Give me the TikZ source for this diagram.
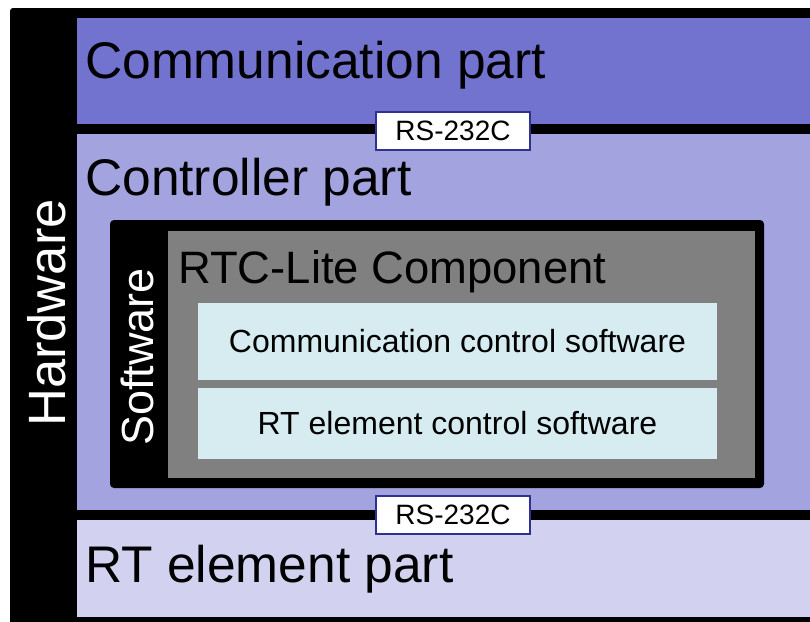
\documentclass[tikz,border=0pt]{standalone}
\usepackage{fontspec}
\setmainfont{Liberation Sans}
\definecolor{commband}{HTML}{7272CF}
\definecolor{ctrlband}{HTML}{A3A3E0}
\definecolor{rtband}{HTML}{D2D2F0}
\definecolor{swgray}{HTML}{808080}
\definecolor{swbox}{HTML}{D6ECF0}
\definecolor{rsborder}{HTML}{2E3192}
\tikzset{
  bigtxt/.style={anchor=base west, inner sep=0pt, font=\fontsize{51.5}{60}\selectfont},
  vertxt/.style={inner sep=0pt, text=white, rotate=90},
  rsbox/.style={draw=rsborder, line width=2pt, fill=white, minimum width=154pt, minimum height=38pt, inner sep=0pt, font=\fontsize{28}{32}\selectfont},
  swlayer/.style={fill=swbox, minimum width=519pt, inner sep=0pt, font=\fontsize{32}{36}\selectfont}
}
\begin{document}
\begin{tikzpicture}[x=1pt,y=-1pt]
\useasboundingbox (0,0) rectangle (810,621);
\fill[white] (0,0) rectangle (810,621);
% hardware frame
\fill[black, rounded corners=3pt] (10,8) rectangle (814,625);
\fill[commband] (77,18) rectangle (810,124);
\fill[ctrlband] (77,134) rectangle (810,510);
\fill[rtband] (77,520) rectangle (810,617);
% software frame
\fill[black, rounded corners=4pt] (110,220) rectangle (764,488);
\fill[swgray] (168,231) rectangle (755,478);
% layers
\node[swlayer, minimum height=77pt] (ccs) at (457.5,341.5) {Communication control software};
\node[swlayer, minimum height=71pt] (rtcs) at (457.5,423.5) {RT element control software};
% texts
\node[bigtxt] (comm) at (85,78) {Communication part};
\node[bigtxt] (ctrl) at (85,195) {Controller part};
\node[bigtxt] (rtel) at (85,582) {RT element part};
\node[anchor=base west, inner sep=0pt, font=\fontsize{45.4}{50}\selectfont] (rtc) at (178,283) {RTC-Lite Component};
\node[vertxt, font=\fontsize{52.5}{56}\selectfont] (hw) at (47,313) {Hardware};
\node[vertxt, font=\fontsize{45}{50}\selectfont] (sw) at (137,357) {Software};
% RS-232C
\node[rsbox] (rs1) at (453,131) {RS-232C};
\node[rsbox] (rs2) at (453,515) {RS-232C};
\end{tikzpicture}
\end{document}
